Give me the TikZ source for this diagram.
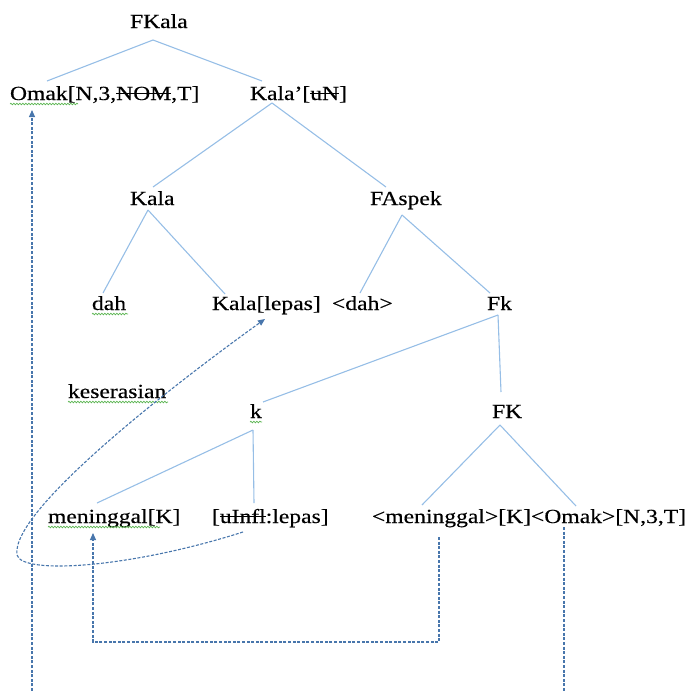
\documentclass[tikz,border=0pt]{standalone}
\usepackage{fontspec}
\setmainfont{Liberation Serif}[FakeStretch=1.18,FakeBold=0.4]
\usetikzlibrary{calc,arrows.meta,decorations.pathmorphing}
\definecolor{treeblue}{RGB}{150,190,230}
\definecolor{dashblue}{RGB}{72,118,172}
\definecolor{spellgreen}{RGB}{90,180,80}
\newcommand\strk[1]{\setbox0\hbox{#1}\rlap{\rule[0.3em]{\wd0}{0.06em}}\box0}
\begin{document}
\begin{tikzpicture}[x=1pt,y=-1pt,
  txt/.style={inner sep=0pt,outer sep=0pt,anchor=base west,font=\fontsize{20}{24}\selectfont},
  branch/.style={draw=treeblue,line width=1.1pt},
  dep/.style={draw=dashblue,line width=1.1pt,dash pattern=on 3pt off 1.6pt},
  deparrow/.style={dep,-{Triangle[length=7pt,width=6pt]}},
  squig/.style={draw=spellgreen,line width=0.7pt,decorate,decoration={snake,segment length=3pt,amplitude=0.8pt}}]
\useasboundingbox (0,0) rectangle (687,691);

% text nodes
\node[txt] (FKala)  at (130,28)  {FKala};
\node[txt] (Omak)   at (10,100)  {Omak[N,3,\strk{NOM},T]};
\node[txt] (KalaP)  at (250,100) {Kala’[\strk{uN}]};
\node[txt] (Kala)   at (130,205) {Kala};
\node[txt] (FAspek) at (370,205) {FAspek};
\node[txt] (dah)    at (92,310)  {dah};
\node[txt] (KalaL)  at (212,310) {Kala[lepas]};
\node[txt] (dahA)   at (332,310) {<dah>};
\node[txt] (Fk)     at (487,310) {Fk};
\node[txt] (kes)    at (68,398)  {keserasian};
\node[txt] (k)      at (250,418) {k};
\node[txt] (FK)     at (492,418) {FK};
\node[txt] (men)    at (48,523)  {meninggal[K]};
\node[txt] (infl)   at (212,523) {[\strk{uInfl}:lepas]};
\node[txt] (big)    at (372,523) {<meninggal>[K]<Omak>[N,3,T]};

% spell-check squiggles
\draw[squig] ($(Omak.base west)+(0,4)$) -- ++(68,0);
\draw[squig] ($(dah.base west)+(0,4)$) -- ++(36,0);
\draw[squig] ($(kes.base west)+(0,4)$) -- ++(100,0);
\draw[squig] ($(k.base west)+(0,4)$) -- ++(12,0);
\draw[squig] ($(men.base west)+(0,4)$) -- ++(112,0);

% tree branches
\draw[branch] ($(FKala.base west)+(23,12)$) -- ($(Omak.base west)+(37,-19)$);
\draw[branch] ($(FKala.base west)+(23,12)$) -- ($(KalaP.base west)+(12,-19)$);
\draw[branch] ($(KalaP.base west)+(22,3)$) -- ($(Kala.base west)+(23,-18)$);
\draw[branch] ($(KalaP.base west)+(22,3)$) -- ($(FAspek.base west)+(16,-18)$);
\draw[branch] ($(Kala.base west)+(18,5)$) -- ($(dah.base west)+(11,-17)$);
\draw[branch] ($(Kala.base west)+(18,5)$) -- ($(KalaL.base west)+(13,-16)$);
\draw[branch] ($(FAspek.base west)+(32,10)$) -- ($(dahA.base west)+(28,-17)$);
\draw[branch] ($(FAspek.base west)+(32,10)$) -- ($(Fk.base west)+(3,-17)$);
\draw[branch] ($(Fk.base west)+(11,5)$) -- ($(k.base west)+(13,-16)$);
\draw[branch] ($(Fk.base west)+(11,5)$) -- ($(FK.base west)+(9,-26)$);
\draw[branch] ($(k.base west)+(3,12)$) -- ($(men.base west)+(49,-20)$);
\draw[branch] ($(k.base west)+(3,12)$) -- ($(infl.base west)+(42,-20)$);
\draw[branch] ($(FK.base west)+(8,7)$) -- ($(big.base west)+(50,-18)$);
\draw[branch] ($(FK.base west)+(8,7)$) -- ($(big.base west)+(204,-17)$);

% dependency connectors
\coordinate (omakfoot) at ($(Omak.base west)+(22,591)$);
\draw[deparrow] (omakfoot) -- ($(Omak.base west)+(22,10)$);

\draw[deparrow] ($(big.base west)+(67,14)$) -- ++(0,105) -| ($(men.base west)+(45,10)$);

\coordinate (omaktwofoot) at ($(big.base west)+(192,168)$);
\draw[dep] ($(big.base west)+(192,4)$) -- (omaktwofoot);

\coordinate (c1) at (130,568);
\coordinate (c2) at (22,575);
\coordinate (lp) at (17,555);
\coordinate (c3) at (10,510);
\coordinate (c4) at (180,380);
\draw[deparrow] ($(infl.base west)+(31,9)$) .. controls (c1) and (c2) .. (lp)
   .. controls (c3) and (c4) .. ($(KalaL.base west)+(53,9)$);
\end{tikzpicture}
\end{document}
